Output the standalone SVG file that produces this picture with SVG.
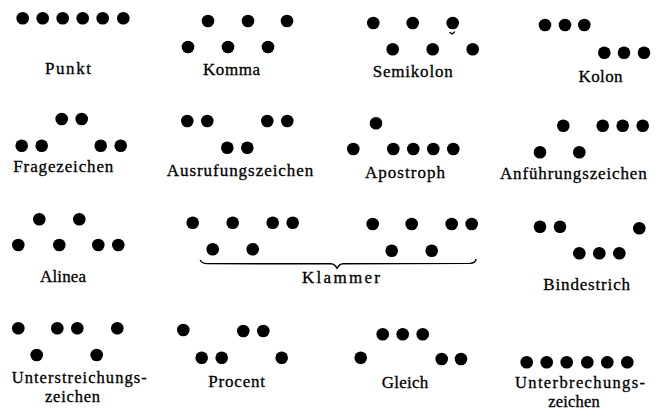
<svg xmlns="http://www.w3.org/2000/svg" width="661" height="418" viewBox="0 0 661 418">
<style>
  .d { fill: #000; }
  .t { font-family: "Liberation Serif", "DejaVu Serif", serif; font-size: 17px; fill: #000; stroke: #000; stroke-width: 0.3; text-anchor: middle; }
  .big { font-size: 16.5px; }
  .br { fill: none; stroke: #000; stroke-width: 1.4; stroke-linecap: round; stroke-linejoin: round; }
</style>
<defs>
  <circle id="dot" r="6.3"/>
</defs>
<rect width="661" height="418" fill="#fff"/>

<g id="punkt">
  <use href="#dot" x="22.7" y="18.3" class="d"/><use href="#dot" x="42.7" y="18.3" class="d"/><use href="#dot" x="62.7" y="18.3" class="d"/>
  <use href="#dot" x="82.7" y="18.3" class="d"/><use href="#dot" x="102.7" y="18.3" class="d"/><use href="#dot" x="123.3" y="18.3" class="d"/>
  <text class="t" x="68" y="74" textLength="46" lengthAdjust="spacing">Punkt</text>
</g>

<g id="komma">
  <use href="#dot" x="208" y="21" class="d"/><use href="#dot" x="248" y="21" class="d"/><use href="#dot" x="287" y="21" class="d"/>
  <use href="#dot" x="188" y="47" class="d"/><use href="#dot" x="228" y="47" class="d"/><use href="#dot" x="268" y="47" class="d"/>
  <text class="t" x="231.5" y="75" textLength="57" lengthAdjust="spacing">Komma</text>
</g>

<g id="semikolon">
  <use href="#dot" x="373.3" y="23" class="d"/><use href="#dot" x="412.7" y="23" class="d"/><use href="#dot" x="452.7" y="23" class="d"/>
  <path d="M450 32.5 L452 34 L454.5 32" class="br" stroke-width="1"/>
  <use href="#dot" x="392.7" y="49.3" class="d"/><use href="#dot" x="432.7" y="49.3" class="d"/><use href="#dot" x="472.7" y="49.3" class="d"/>
  <text class="t" x="412.7" y="76.7" textLength="80" lengthAdjust="spacing">Semikolon</text>
</g>

<g id="kolon">
  <use href="#dot" x="545" y="25" class="d"/><use href="#dot" x="565" y="25" class="d"/><use href="#dot" x="584.3" y="25" class="d"/>
  <use href="#dot" x="604.3" y="52.7" class="d"/><use href="#dot" x="624" y="52.7" class="d"/><use href="#dot" x="644" y="52.7" class="d"/>
  <text class="t" x="600.5" y="81.7" textLength="44" lengthAdjust="spacing">Kolon</text>
</g>

<g id="fragezeichen">
  <use href="#dot" x="61.7" y="119" class="d"/><use href="#dot" x="81.7" y="119" class="d"/>
  <use href="#dot" x="21.7" y="145.7" class="d"/><use href="#dot" x="41.7" y="145.7" class="d"/>
  <use href="#dot" x="100.7" y="145.7" class="d"/><use href="#dot" x="120.7" y="145.7" class="d"/>
  <text class="t" x="63.3" y="171.7" textLength="100" lengthAdjust="spacing">Fragezeichen</text>
</g>

<g id="ausrufungszeichen">
  <use href="#dot" x="187.3" y="121" class="d"/><use href="#dot" x="207.3" y="121" class="d"/>
  <use href="#dot" x="267.3" y="121" class="d"/><use href="#dot" x="287.3" y="121" class="d"/>
  <use href="#dot" x="227.3" y="147.7" class="d"/><use href="#dot" x="247.3" y="147.7" class="d"/>
  <text class="t" x="240" y="176" textLength="146.6" lengthAdjust="spacing">Ausrufungszeichen</text>
</g>

<g id="apostroph">
  <use href="#dot" x="376" y="123.3" class="d"/>
  <use href="#dot" x="353.3" y="149" class="d"/><use href="#dot" x="393.3" y="149" class="d"/><use href="#dot" x="413.3" y="149" class="d"/>
  <use href="#dot" x="433.3" y="149" class="d"/><use href="#dot" x="453.3" y="149" class="d"/>
  <text class="t" x="405" y="177.7" textLength="80" lengthAdjust="spacing">Apostroph</text>
</g>

<g id="anfuehrungszeichen">
  <use href="#dot" x="563.3" y="125.7" class="d"/><use href="#dot" x="602.7" y="125.7" class="d"/>
  <use href="#dot" x="622.7" y="125.7" class="d"/><use href="#dot" x="642.7" y="125.7" class="d"/>
  <use href="#dot" x="540" y="152.3" class="d"/><use href="#dot" x="579.3" y="152.3" class="d"/>
  <text class="t" x="573.3" y="179" textLength="146.7" lengthAdjust="spacing">Anführungszeichen</text>
</g>

<g id="alinea">
  <use href="#dot" x="39.3" y="219.3" class="d"/><use href="#dot" x="79.3" y="219.3" class="d"/>
  <use href="#dot" x="18.3" y="245" class="d"/><use href="#dot" x="59.3" y="245" class="d"/>
  <use href="#dot" x="98.3" y="245" class="d"/><use href="#dot" x="118.3" y="245" class="d"/>
  <text class="t" x="63" y="281.7" textLength="46" lengthAdjust="spacing">Alinea</text>
</g>

<g id="klammer">
  <use href="#dot" x="192.7" y="222.7" class="d"/><use href="#dot" x="232.7" y="222.7" class="d"/>
  <use href="#dot" x="272.7" y="222.7" class="d"/><use href="#dot" x="292.7" y="222.7" class="d"/>
  <use href="#dot" x="212.7" y="249.3" class="d"/><use href="#dot" x="252.7" y="249.3" class="d"/>
  <use href="#dot" x="372.7" y="224" class="d"/><use href="#dot" x="411.7" y="224" class="d"/>
  <use href="#dot" x="451.7" y="224" class="d"/><use href="#dot" x="471.7" y="224" class="d"/>
  <use href="#dot" x="391.7" y="250.7" class="d"/><use href="#dot" x="431.7" y="250.7" class="d"/>
  <path class="br" d="M200.5 260.5 Q202 263.5 207 263.6 L331 263.8 Q335 264 337 268.5 Q339 264 343 263.8 L470 263.4 Q475 263.2 476 259.5"/>
  <text class="t" x="341" y="282.7" textLength="78" lengthAdjust="spacing">Klammer</text>
</g>

<g id="bindestrich">
  <use href="#dot" x="540" y="226.7" class="d"/><use href="#dot" x="560" y="226.7" class="d"/><use href="#dot" x="639.3" y="228.3" class="d"/>
  <use href="#dot" x="579.3" y="253.3" class="d"/><use href="#dot" x="599.3" y="253.3" class="d"/><use href="#dot" x="619.3" y="253.3" class="d"/>
  <text class="t" x="586.7" y="290" textLength="86.7" lengthAdjust="spacing">Bindestrich</text>
</g>

<g id="unterstreichungszeichen">
  <use href="#dot" x="18.3" y="328.3" class="d"/><use href="#dot" x="57.3" y="328.3" class="d"/>
  <use href="#dot" x="77.3" y="328.3" class="d"/><use href="#dot" x="117.3" y="328.3" class="d"/>
  <use href="#dot" x="36.7" y="355" class="d"/><use href="#dot" x="96.7" y="355" class="d"/>
  <text class="t big" x="79.2" y="383" textLength="135" lengthAdjust="spacing">Unterstreichungs-</text>
  <text class="t big" x="72.5" y="401.5" textLength="55" lengthAdjust="spacing">zeichen</text>
</g>

<g id="procent">
  <use href="#dot" x="183.3" y="330" class="d"/><use href="#dot" x="243.3" y="331" class="d"/><use href="#dot" x="263.3" y="331" class="d"/>
  <use href="#dot" x="201.7" y="357.7" class="d"/><use href="#dot" x="221.7" y="357.7" class="d"/><use href="#dot" x="281.7" y="357.7" class="d"/>
  <text class="t" x="236.7" y="386.7" textLength="56.7" lengthAdjust="spacing">Procent</text>
</g>

<g id="gleich">
  <use href="#dot" x="382.7" y="334.3" class="d"/><use href="#dot" x="402.7" y="334.3" class="d"/><use href="#dot" x="422.7" y="334.3" class="d"/>
  <use href="#dot" x="360.7" y="357.7" class="d"/><use href="#dot" x="441.7" y="359" class="d"/><use href="#dot" x="461" y="359" class="d"/>
  <text class="t" x="405" y="388.3" textLength="46.6" lengthAdjust="spacing">Gleich</text>
</g>

<g id="unterbrechungszeichen">
  <use href="#dot" x="526.7" y="362.3" class="d"/><use href="#dot" x="546.7" y="362.3" class="d"/><use href="#dot" x="566.7" y="362.3" class="d"/>
  <use href="#dot" x="587.3" y="362.3" class="d"/><use href="#dot" x="607.3" y="362.3" class="d"/><use href="#dot" x="627.3" y="362.3" class="d"/>
  <text class="t big" x="580" y="388" textLength="130" lengthAdjust="spacing">Unterbrechungs-</text>
  <text class="t big" x="574" y="406.5" textLength="51.7" lengthAdjust="spacing">zeichen</text>
</g>
</svg>
